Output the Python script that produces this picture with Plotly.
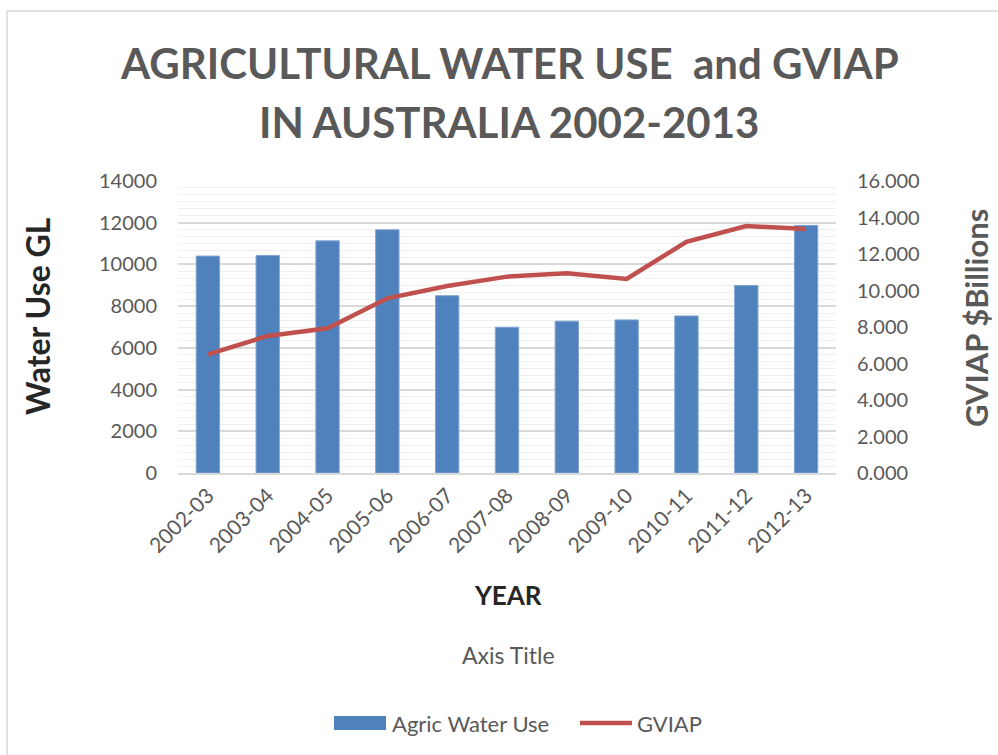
import plotly.graph_objects as go

years = ["2002-03", "2003-04", "2004-05", "2005-06", "2006-07", "2007-08",
         "2008-09", "2009-10", "2010-11", "2011-12", "2012-13"]
water_use_gl = [10400, 10430, 11130, 11660, 8500, 6990, 7280, 7340, 7530, 8990, 11870]
gviap_billions = [6.50, 7.51, 7.93, 9.57, 10.25, 10.76, 10.94, 10.63, 12.67, 13.53, 13.37]

W, H = 998, 755
L, R, T, B = 178, 162, 181, 282
pw, ph = W - L - R, H - T - B

BAR_COLOR = "#4F81BD"
LINE_COLOR = "#C0504D"


def px(x):
    return (x - L) / pw


def py(y):
    return (H - B - y) / ph


font = "Lato, 'Open Sans', sans-serif"
grey = "#595959"
dark = "#262626"

fig = go.Figure()
fig.add_trace(go.Bar(
    x=years, y=water_use_gl, name="Agric Water Use",
    marker=dict(color=BAR_COLOR, line=dict(color="#7FA3D1", width=1)),
    yaxis="y", showlegend=False,
))
fig.add_trace(go.Scatter(
    x=years, y=gviap_billions, name="GVIAP", mode="lines",
    line=dict(color=LINE_COLOR, width=4.5),
    yaxis="y2", showlegend=False,
))

annotations = [
    dict(text="<b>AGRICULTURAL WATER USE  and GVIAP</b>", x=px(509), y=py(63),
         font=dict(size=42, color=grey)),
    dict(text="<b>IN AUSTRALIA 2002-2013</b>", x=px(509), y=py(122),
         font=dict(size=42, color=grey)),
    dict(text="<b>Water Use GL</b>", x=px(37), y=py(316), textangle=-90,
         font=dict(size=32, color=dark)),
    dict(text="<b>GVIAP $Billions</b>", x=px(976), y=py(318), textangle=-90,
         font=dict(size=31, color=grey)),
    dict(text="<b>YEAR</b>", x=px(508), y=py(595),
         font=dict(size=26, color=dark)),
    dict(text="Axis Title", x=px(508), y=py(655),
         font=dict(size=23, color=grey)),
    # legend entries
    dict(text="Agric Water Use", x=px(390), y=py(723), xanchor="left",
         font=dict(size=22, color=grey)),
    dict(text="GVIAP", x=px(635), y=py(723), xanchor="left",
         font=dict(size=22, color=grey)),
]
for a in annotations:
    a.setdefault("xanchor", "center")
    a.update(xref="paper", yref="paper", showarrow=False, yanchor="middle")

shapes = [
    # chart area border
    dict(type="rect", xref="paper", yref="paper",
         x0=px(7), x1=px(1010), y0=py(770), y1=py(11),
         line=dict(color="#D9D9D9", width=1.5), fillcolor="rgba(0,0,0,0)",
         layer="below"),
    # legend swatches
    dict(type="rect", xref="paper", yref="paper",
         x0=px(334), x1=px(386), y0=py(730), y1=py(716),
         line=dict(width=0), fillcolor=BAR_COLOR),
    dict(type="line", xref="paper", yref="paper",
         x0=px(580), x1=px(632), y0=py(723), y1=py(723),
         line=dict(color=LINE_COLOR, width=4.5)),
]

fig.update_layout(
    width=W, height=H,
    margin=dict(l=L, r=R, t=T, b=B),
    paper_bgcolor="white", plot_bgcolor="white",
    font=dict(family=font, color=grey),
    bargap=0.61,
    showlegend=False,
    xaxis=dict(
        type="category", tickangle=-45, tickfont=dict(size=21, color=grey),
        showgrid=False, showline=True, linecolor="#D9D9D9", linewidth=2,
        ticks="", ticklen=0,
    ),
    yaxis=dict(
        range=[0, 14000], dtick=2000, tickformat="d",
        tickfont=dict(size=20, color=grey),
        showgrid=True, gridcolor="#D9D9D9", gridwidth=1.5,
        minor=dict(dtick=2000 / 6, showgrid=True, gridcolor="#F0F0F0", gridwidth=1),
        zeroline=False, showline=False, ticks="", ticklabelstandoff=20,
    ),
    yaxis2=dict(
        range=[0, 16], dtick=2, tickformat=".3f", overlaying="y", side="right",
        tickfont=dict(size=20, color=grey), showgrid=False, zeroline=False,
        showline=False, ticks="", ticklabelstandoff=20,
    ),
    annotations=annotations,
    shapes=shapes,
)

fig.write_html("out.html")
